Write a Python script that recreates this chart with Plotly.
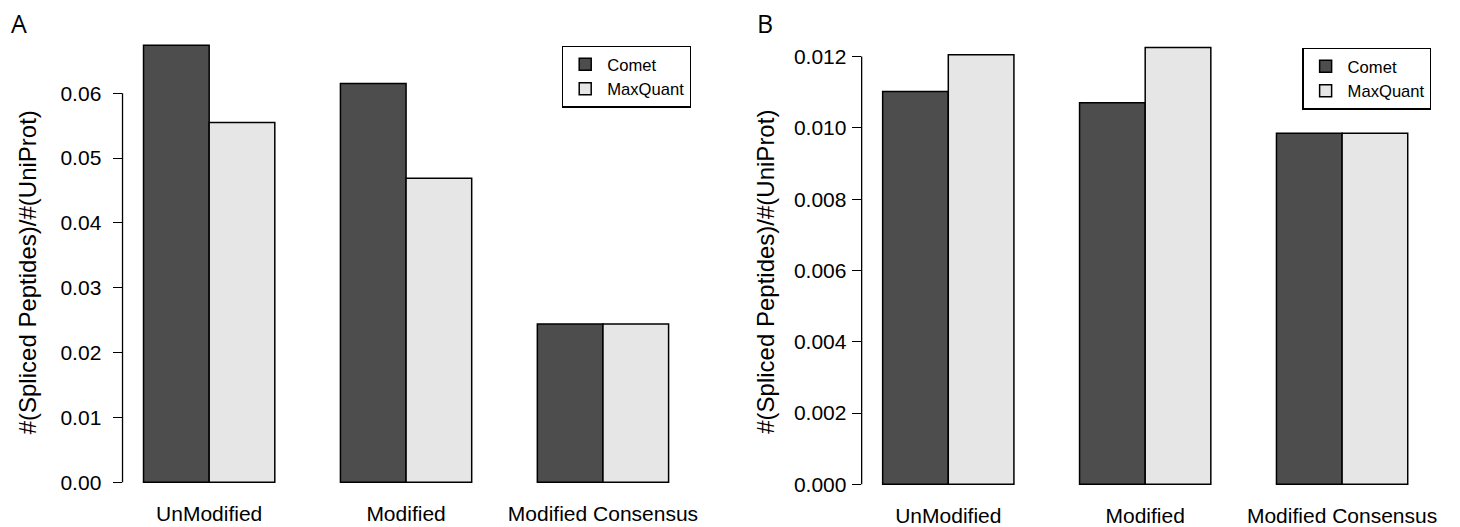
import plotly.graph_objects as go

# ---- data ----
categories = ["UnModified", "Modified", "Modified Consensus"]
series_names = ["Comet", "MaxQuant"]
panel_a_comet = [0.0674, 0.0615, 0.0244]
panel_a_maxquant = [0.0555, 0.0469, 0.0244]
panel_b_comet = [0.01102, 0.01070, 0.00985]
panel_b_maxquant = [0.01205, 0.01225, 0.00985]
panel_a_tickvals = [0.00, 0.01, 0.02, 0.03, 0.04, 0.05, 0.06]
panel_a_ticktext = ["0.00", "0.01", "0.02", "0.03", "0.04", "0.05", "0.06"]
panel_b_tickvals = [0.000, 0.002, 0.004, 0.006, 0.008, 0.010, 0.012]
panel_b_ticktext = ["0.000", "0.002", "0.004", "0.006", "0.008", "0.010", "0.012"]
y_title = "#(Spliced Peptides)/#(UniProt)"
panel_letters = ["A", "B"]

# ---- style ----
W, H = 1460, 527
dark = "#4D4D4D"
light = "#E6E6E6"
font_main = "Liberation Sans, Arial, Helvetica, sans-serif"
tick_size = 21
title_size = 24
edge_w = 1.5


def px_x(p):
    return p / W


def px_y(p):
    return 1 - p / H


fig = go.Figure()
panels = [
    dict(comet=panel_a_comet, mq=panel_a_maxquant, xa="x", ya="y", legend="legend"),
    dict(comet=panel_b_comet, mq=panel_b_maxquant, xa="x2", ya="y2", legend="legend2"),
]
for p in panels:
    for name, vals, col in [(series_names[0], p["comet"], dark), (series_names[1], p["mq"], light)]:
        fig.add_trace(go.Bar(
            x=categories, y=vals, name=name,
            marker=dict(color=col, line=dict(color="black", width=edge_w)),
            xaxis=p["xa"], yaxis=p["ya"], legend=p["legend"],
            hoverinfo="skip",
        ))


def y_range(vals):
    m = max(vals)
    return [-0.04 * m, 1.04 * m]


a_all = panel_a_comet + panel_a_maxquant
b_all = panel_b_comet + panel_b_maxquant

xcommon = dict(type="category", range=[-0.44, 2.44], showline=False, showgrid=False,
               zeroline=False, ticks="", tickfont=dict(family=font_main, size=tick_size, color="black"),
               ticklabelstandoff=-1)
ycommon = dict(showline=False, showgrid=False, zeroline=False, ticks="outside", ticklen=9,
               tickwidth=1.3, tickcolor="black",
               tickfont=dict(family=font_main, size=tick_size, color="black"))

legend_common = dict(xanchor="left", yanchor="top", bgcolor="white", bordercolor="black",
                     borderwidth=1.3, itemwidth=34,
                     font=dict(family=font_main, size=16.6, color="black"))

fig.update_layout(
    width=W, height=H, margin=dict(l=0, r=0, t=0, b=0),
    paper_bgcolor="white", plot_bgcolor="white",
    barmode="group", bargap=1 / 3, bargroupgap=0,
    xaxis=dict(domain=[px_x(123.2), px_x(693.4)], anchor="y", **xcommon),
    yaxis=dict(domain=[px_y(500.8), px_y(27.8)], anchor="x", range=y_range(a_all),
               tickvals=panel_a_tickvals, ticktext=panel_a_ticktext, ticklabelstandoff=7, **ycommon),
    xaxis2=dict(domain=[px_x(866.4), px_x(1436.6)], anchor="y2", **xcommon),
    yaxis2=dict(domain=[px_y(502.8), px_y(30.2)], anchor="x2", range=y_range(b_all),
                tickvals=panel_b_tickvals, ticktext=panel_b_ticktext, ticklabelstandoff=1, **ycommon),
    legend=dict(x=px_x(565), y=px_y(45.7), **legend_common),
    legend2=dict(x=px_x(1309.5), y=px_y(47.7), **legend_common),
)

# axis lines spanning the first to last tick, like R's axis()
for xa, ya, tv in [("x", "y", panel_a_tickvals), ("x2", "y2", panel_b_tickvals)]:
    fig.add_shape(type="line", xref=f"{xa} domain", yref=ya, x0=0, x1=0,
                  y0=tv[0], y1=tv[-1], line=dict(color="black", width=1.3))

# y titles
for xc, yc in [(28.5, 272.5), (770, 272.5)]:
    fig.add_annotation(text=y_title, xref="paper", yref="paper", x=px_x(xc), y=px_y(yc),
                       xanchor="center", yanchor="middle", textangle=-90, showarrow=False,
                       font=dict(family=font_main, size=title_size, color="black"))

# panel letters
for letter, xl in zip(panel_letters, [9, 759]):
    fig.add_annotation(text=letter, xref="paper", yref="paper", x=px_x(xl), y=px_y(4),
                       xanchor="left", yanchor="top", showarrow=False,
                       font=dict(family="Open Sans, sans-serif", size=25, color="black"))

fig.write_html("out.html")
